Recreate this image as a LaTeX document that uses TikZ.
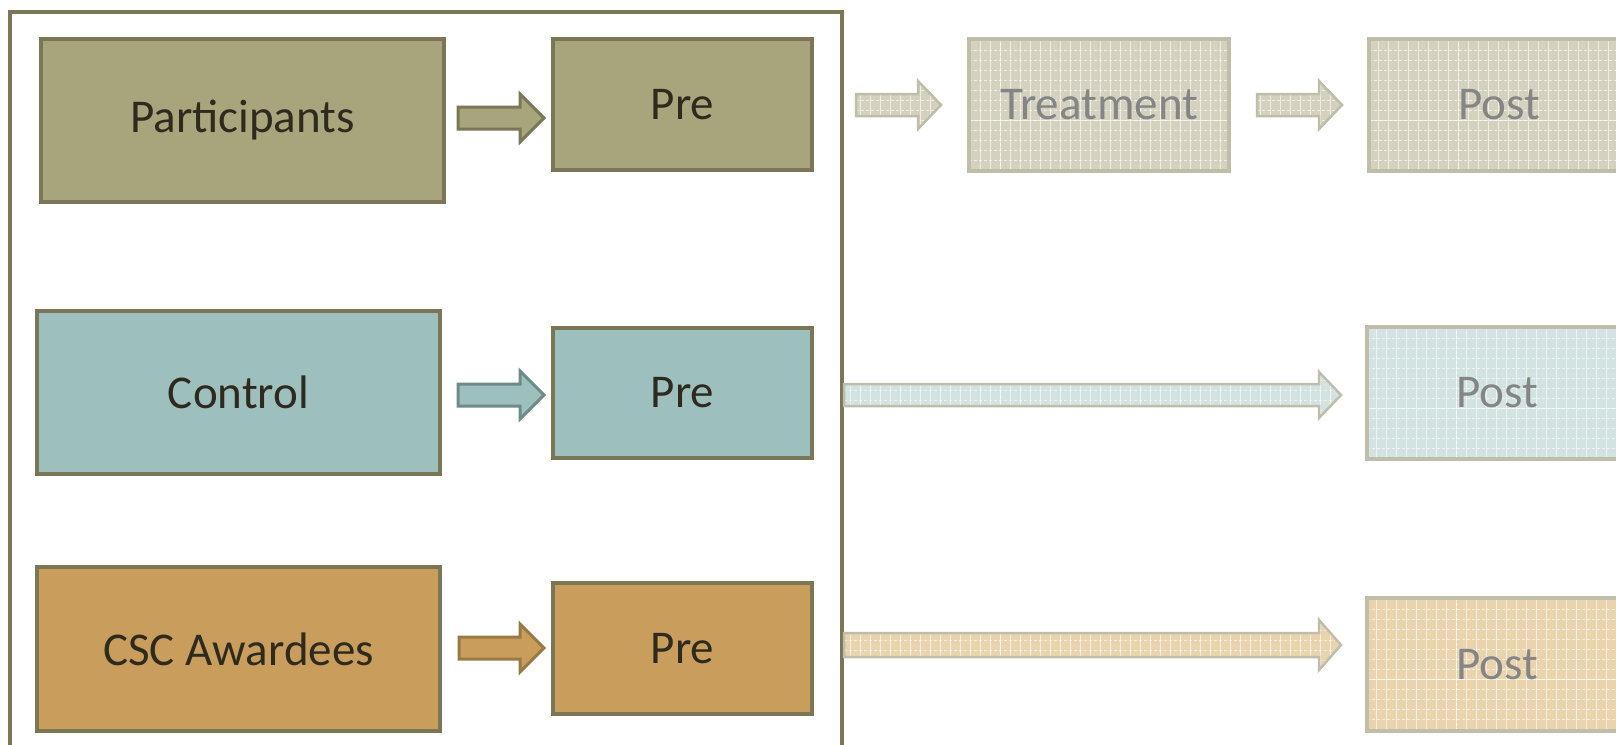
\documentclass[tikz,border=0pt]{standalone}
\usepackage{fontspec}
\setmainfont{Carlito}
\usetikzlibrary{calc}
\definecolor{olivefill}{HTML}{A8A47C}
\definecolor{oliveline}{HTML}{7A7656}
\definecolor{tealfill}{HTML}{9DBFBE}
\definecolor{tealline}{HTML}{6E8B89}
\definecolor{goldfill}{HTML}{C99E5C}
\definecolor{goldline}{HTML}{9A7A44}
\definecolor{txt}{HTML}{2E2A1E}
\definecolor{fadeolive}{HTML}{D4D2BE}
\definecolor{fadeteal}{HTML}{D2E3E2}
\definecolor{fadegold}{HTML}{EAD4AD}
\definecolor{fadeline}{HTML}{C0BEAB}
\definecolor{fadetxt}{HTML}{858585}
\newcommand\blockarrow[6]{%
  \path[#1] let \p1=(#2), \p2=(#3) in
    (\x1,{\y1+#4}) -- ({\x2-#6},{\y1+#4}) -- ({\x2-#6},{\y1+#5}) -- (\x2,\y1)
    -- ({\x2-#6},{\y1-#5}) -- ({\x2-#6},{\y1-#4}) -- (\x1,{\y1-#4}) -- cycle;}
\tikzset{
  gridfill/.style={path picture={%
    \draw[white, opacity=.6, line width=.8pt]
      (path picture bounding box.south west) grid[xstep=10pt, ystep=1000pt] (path picture bounding box.north east);
    \draw[white, opacity=.6, line width=.8pt, dash pattern=on 3pt off 2pt]
      (path picture bounding box.south west) grid[xstep=1000pt, ystep=10pt] (path picture bounding box.north east);}},
  box/.style={draw=oliveline, line width=4pt, inner sep=0pt, text=txt,
    font=\fontsize{47}{50}\selectfont},
  fadebox/.style={gridfill, draw=fadeline, line width=3.5pt, inner sep=0pt, text=fadetxt,
    font=\fontsize{47}{50}\selectfont},
  solidarrow/.style={line width=3pt, line join=miter},
  fadearrow/.style={gridfill, draw=fadeline, line width=2.5pt},
}
\begin{document}
\begin{tikzpicture}[x=1pt, y=-1pt]
\useasboundingbox (0,0) rectangle (1616,744);
\fill[white] (0,0) rectangle (1616,744);
% outer frame
\draw[oliveline, line width=3.5pt] (842,770) -- (842,12) -- (10,12) -- (10,770);
% row 1
\node[box, fill=olivefill, minimum width=403pt, minimum height=163pt] (part) at (242.5,120.5) {Participants};
\node[box, fill=olivefill, minimum width=259pt, minimum height=131pt] (pre1) at (682.5,104.5) {Pre};
\node[fadebox, fill=fadeolive, minimum width=260pt, minimum height=132pt] (treat) at (1099,105) {Treatment};
\node[fadebox, fill=fadeolive, minimum width=260pt, minimum height=132pt] (post1) at (1499,105) {Post};
% row 2
\node[box, fill=tealfill, minimum width=403pt, minimum height=163pt] (control) at (238.5,392.5) {Control};
\node[box, fill=tealfill, minimum width=259pt, minimum height=130pt] (pre2) at (682.5,393) {Pre};
\node[fadebox, fill=fadeteal, minimum width=260pt, minimum height=132pt] (post2) at (1497,393) {Post};
% row 3
\node[box, fill=goldfill, minimum width=403pt, minimum height=164pt] (csc) at (238.5,649) {CSC Awardees};
\node[box, fill=goldfill, minimum width=259pt, minimum height=131pt] (pre3) at (682.5,648.5) {Pre};
\node[fadebox, fill=fadegold, minimum width=260pt, minimum height=133pt] (post3) at (1497,664.5) {Post};
% arrow end points
\coordinate (a1s) at (458,118);  \coordinate (a1e) at (544,118);
\coordinate (a2s) at (856,105);  \coordinate (a2e) at (941,105);
\coordinate (a3s) at (1257,105); \coordinate (a3e) at (1342,105);
\coordinate (c1s) at (458,395);  \coordinate (c1e) at (544,395);
\coordinate (c2s) at (844,395);  \coordinate (c2e) at (1341,395);
\coordinate (w1s) at (459,648);  \coordinate (w1e) at (544,648);
\coordinate (w2s) at (844,645);  \coordinate (w2e) at (1341,645);
% arrows
\blockarrow{solidarrow, fill=olivefill, draw=oliveline}{a1s}{a1e}{11pt}{24pt}{24pt}
\blockarrow{fadearrow, fill=fadeolive}{a2s}{a2e}{11pt}{24pt}{23pt}
\blockarrow{fadearrow, fill=fadeolive}{a3s}{a3e}{11pt}{24pt}{23pt}
\blockarrow{solidarrow, fill=tealfill, draw=tealline}{c1s}{c1e}{11pt}{24pt}{24pt}
\blockarrow{fadearrow, fill=fadeteal}{c2s}{c2e}{11pt}{23pt}{22pt}
\blockarrow{solidarrow, fill=goldfill, draw=goldline}{w1s}{w1e}{11pt}{24pt}{24pt}
\blockarrow{fadearrow, fill=fadegold}{w2s}{w2e}{12pt}{25pt}{22pt}
\end{tikzpicture}
\end{document}
